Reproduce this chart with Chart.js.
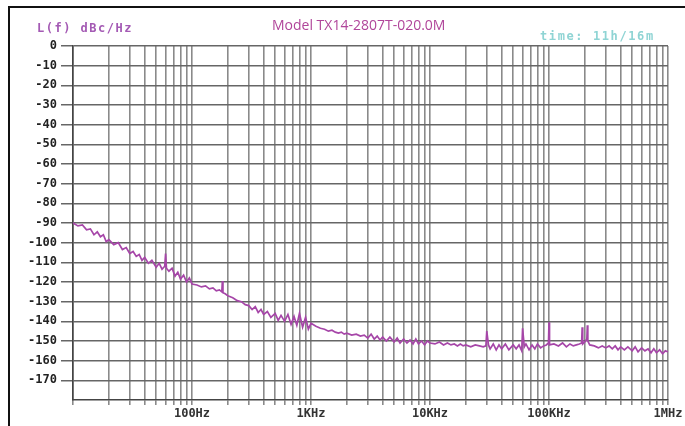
<!DOCTYPE html>
<html><head><meta charset="utf-8">
<script src="https://cdn.jsdelivr.net/npm/chart.js@4.4.1/dist/chart.umd.min.js"></script>
<style>
html,body{margin:0;padding:0;background:#fff;overflow:hidden}
#wrap{position:relative;width:685px;height:426px;background:#fff}
canvas{position:absolute;left:0;top:0}
.frameTop{position:absolute;left:8px;top:6px;width:677px;height:2px;background:#111}
.frameLeft{position:absolute;left:8px;top:6px;width:2px;height:420px;background:#111}
.lbl{position:absolute;white-space:nowrap;line-height:1}
</style></head><body>
<div id="wrap">
<canvas id="c" width="685" height="426"></canvas>
<div class="frameTop"></div><div class="frameLeft"></div>
<div class="lbl" style="left:272px;top:15px;font:14px 'Open Sans';color:#b0459a">Model TX14-2807T-020.0M</div>
<div class="lbl" style="left:37px;top:21px;font:bold 12px 'DejaVu Sans Mono';letter-spacing:1.5px;color:#a45ab4">L(f) dBc/Hz</div>
<div class="lbl" style="left:540px;top:29px;font:bold 12px 'DejaVu Sans Mono';letter-spacing:1.6px;color:#8fd4d4">time: 11h/16m</div>
</div>
<script>
// ---- data ----
const freqD1 = [10, 11, 12, 13, 14, 15, 16, 17, 18, 19, 20, 22, 24, 26, 28, 30, 32, 34, 36, 38, 40, 43, 46, 50, 53, 56, 59, 60, 61, 64, 68, 72, 76, 80, 85, 90, 95];
const dbcD1  = [-90, -91.5, -91, -93.5, -93, -96, -94.5, -97, -96, -99.5, -98.5, -101, -100, -103.5, -102.5, -105.5, -104.5, -107, -106, -109, -107.5, -110.5, -109, -112.5, -110.5, -113.5, -112, -105.5, -113, -114.5, -113, -117, -115, -118.5, -116.5, -120, -118];
const freqD2 = [100, 110, 120, 130, 140, 150, 160, 170, 178, 180, 182, 190, 200, 220, 240, 260, 280, 300, 320, 340, 360, 380, 400, 430, 460, 500, 530, 560, 600, 640, 680, 720, 760, 800, 850, 900, 950];
const dbcD2  = [-121, -121.5, -122.5, -122, -123.5, -123, -124.5, -124, -125, -119.5, -125.5, -126, -127, -128, -129.5, -130, -131.5, -132, -134, -132.5, -135.5, -134, -136.5, -135, -138, -136, -139.5, -137, -140, -136.5, -141.5, -137.5, -142, -136, -143, -138, -144];
const freqD3 = [1000, 1100, 1200, 1300, 1400, 1500, 1600, 1700, 1800, 1900, 2000, 2200, 2400, 2600, 2800, 3000, 3200, 3400, 3600, 3800, 4000, 4300, 4600, 5000, 5300, 5600, 6000, 6400, 6800, 7200, 7600, 8000, 8500, 9000, 9500];
const dbcD3  = [-141, -142.5, -143.5, -144, -145, -144.5, -145.5, -146, -145.5, -146.5, -146, -147, -146.5, -147.5, -147, -148.5, -146.5, -149, -147.5, -149.5, -148, -150, -148, -150.5, -148.5, -151, -149, -151, -149.5, -151.5, -149, -151.5, -150, -152, -150];
const freqD4 = [10000, 11000, 12000, 13000, 14000, 15000, 16000, 17000, 18000, 19000, 20000, 22000, 24000, 26000, 28000, 29500, 30000, 31000, 32000, 34000, 36000, 38000, 40000, 43000, 46000, 50000, 53000, 56000, 59000, 60000, 62000, 64000, 68000, 72000, 76000, 80000, 85000, 90000, 95000, 99000];
const dbcD4  = [-151, -151.5, -150.5, -152, -151, -152, -151.5, -152.5, -151.5, -152.5, -152, -153, -152, -152.5, -153, -152.5, -145, -152, -154, -151.5, -154.5, -152, -154, -151.5, -154.5, -152, -154, -152, -155, -143.5, -153, -151.5, -154.5, -152, -154, -151.5, -153.5, -152.5, -152, -151];
const freqD5 = [100000, 101000, 110000, 120000, 130000, 140000, 150000, 160000, 170000, 180000, 188000, 190000, 192000, 200000, 208000, 210000, 212000, 220000, 240000, 260000, 280000, 300000, 320000, 340000, 360000, 380000, 400000, 430000, 460000, 500000, 530000, 560000, 600000, 640000, 680000, 720000, 760000, 800000, 850000, 900000, 950000, 1000000];
const dbcD5  = [-140.5, -152, -151.5, -152.5, -151, -153, -151.5, -152.5, -152, -151.5, -151, -143, -151.5, -150.5, -149, -142, -150, -152, -152.5, -153.5, -152.5, -153.5, -152.5, -154, -152.5, -154.5, -153, -154.5, -153, -155, -153, -155.5, -153.5, -155, -154, -156, -154, -156, -154.5, -156.5, -155, -155.5];

const majorFreqs  = [100, 1000, 10000, 100000, 1000000];
const majorLabels = ['100Hz', '1KHz', '10KHz', '100KHz', '1MHz'];
const gridMantissa = [1, 2, 3, 4, 5, 6, 7, 8, 9];
const gridDecades  = [10, 100, 1000, 10000, 100000];
const yTickValues = [0, -10, -20, -30, -40, -50, -60, -70, -80, -90, -100, -110, -120, -130, -140, -150, -160, -170, -180];

// ---- build ----
const freqs = [].concat(freqD1, freqD2, freqD3, freqD4, freqD5);
const dbc   = [].concat(dbcD1, dbcD2, dbcD3, dbcD4, dbcD5);
const points = freqs.map((f, i) => ({x: f, y: dbc[i]}));
const gridFreqs = [];
gridDecades.forEach(d => gridMantissa.forEach(m => gridFreqs.push(m * d)));
gridFreqs.push(1000000);

const monoBold = {family: 'DejaVu Sans Mono', size: 12, weight: 'bold'};

new Chart(document.getElementById('c'), {
  type: 'line',
  data: {datasets: [{data: points, borderColor: '#a646a8', borderWidth: 1.7,
    pointRadius: 0, tension: 0, fill: false}]},
  options: {
    responsive: false, animation: false, devicePixelRatio: 1,
    plugins: {legend: {display: false}, tooltip: {enabled: false}},
    layout: {padding: {top: 46, right: 17, left: 0, bottom: 0}},
    scales: {
      x: {
        type: 'logarithmic', min: 10, max: 1000000,
        afterBuildTicks: s => { s.ticks = gridFreqs.map(v => ({value: v})); },
        afterFit: s => { s.height = 26; },
        grid: {color: '#8a8a8a', lineWidth: 1.6, tickLength: 5},
        border: {color: '#444', width: 1.6},
        ticks: {autoSkip: false, maxRotation: 0, minRotation: 0, padding: 2, color: '#333', font: monoBold,
          callback: v => { const i = majorFreqs.indexOf(v); return i >= 0 ? majorLabels[i] : ''; }}
      },
      y: {
        min: -180, max: 0,
        afterBuildTicks: s => { s.ticks = yTickValues.map(v => ({value: v})); },
        afterFit: s => { s.width = 73; },
        grid: {color: c => (c.tick && c.tick.value === -180) ? 'rgba(0,0,0,0)' : '#666', lineWidth: 1.5, tickLength: 12},
        border: {color: '#444', width: 1.6},
        ticks: {padding: 4, color: '#222', font: monoBold,
          callback: v => v === -180 ? '' : String(v)}
      }
    }
  }
});
</script>
</body></html>
